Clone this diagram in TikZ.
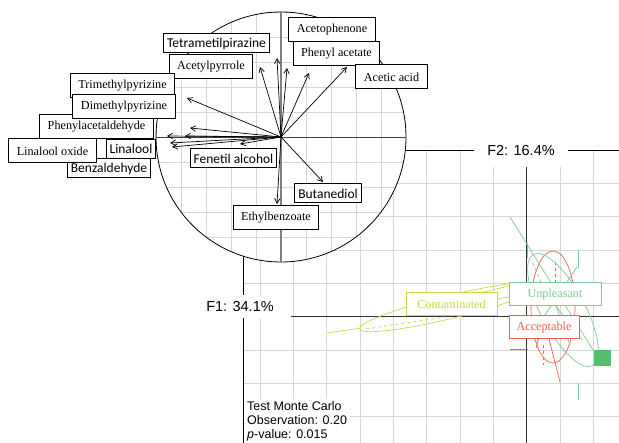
\documentclass[tikz,border=0pt]{standalone}
\usepackage{fontspec}
\setmainfont{Liberation Serif}
\newfontfamily\calibfont{Carlito}
\newfontfamily\arialfont{Liberation Sans}
\usetikzlibrary{arrows.meta}

\definecolor{gridgray}{gray}{0.84}
\definecolor{axisgray}{gray}{0.5}
\definecolor{contcol}{RGB}{200,216,74}
\definecolor{unplcol}{RGB}{124,203,152}
\definecolor{accecol}{RGB}{240,96,76}
\definecolor{sqgreen}{RGB}{86,190,110}

\tikzset{
    serifbox/.style={draw, fill=white, line width=1pt, inner xsep=8, inner ysep=0,
        minimum height=24, font=\fontsize{12.2}{14}\selectfont},
    sansbox/.style={draw, fill=white, line width=1pt, inner xsep=3.5, inner ysep=0,
        minimum height=19, font=\calibfont\fontsize{13.5}{15}\selectfont},
    grouplab/.style={draw=#1, text=#1, fill=white, line width=1pt, inner xsep=4, inner ysep=0,
        minimum height=23, font=\fontsize{12.2}{14}\selectfont},
    axislab/.style={fill=white, inner ysep=0, font=\arialfont\fontsize{14.5}{16}\selectfont},
    gridline/.style={gridgray, line width=0.8pt},
    vec/.style={->, line width=0.7pt},
    grp/.style={#1, line width=0.7pt},
    >={Straight Barb[length=5pt,width=5.5pt]}
}

\begin{document}
\begin{tikzpicture}[x=1pt, y=-1pt]

\useasboundingbox (0,0) rectangle (619,443);

% Grid spacings and circle size
\def\bigstep{33.333}
\def\smallstep{25}
\def\radius{125}
\coordinate (O) at (281,137);

% Grid of the factor map
\foreach \k in {0,...,10} {
    \draw[gridline] (260+\k*\bigstep,150) -- (260+\k*\bigstep,443);
}
\foreach \k in {1,...,8} {
    \draw[gridline] (243,150+\k*\bigstep) -- (619,150+\k*\bigstep);
}

% Frame and axes of the factor map
\draw[line width=0.8pt] (243,443) -- (243,150) -- (619,150);
\draw[line width=0.9pt, black!80] (243,316.67) -- (619,316.67);
\draw[line width=0.9pt, black!80] (526.67,150) -- (526.67,443);

% Correlation circle with its own grid
\fill[white] (O) circle (\radius);
\begin{scope}
    \clip (O) circle (\radius);
    \foreach \k in {-5,...,5} {
        \draw[gridline] (281+\k*\smallstep,10) -- (281+\k*\smallstep,264);
        \draw[gridline] (154,137+\k*\smallstep) -- (408,137+\k*\smallstep);
    }
\end{scope}
\draw[line width=0.8pt] (O) circle (\radius);
\draw[line width=0.7pt, black!75] (156,137) -- (406,137);
\draw[line width=1.4pt, axisgray] (281,12) -- (281,262);

% Variable vectors
\foreach \n/\x/\y in {1/277/58, 2/260/67, 3/287/68, 4/309/73, 5/347/67,
                      6/187/98, 7/190/128, 8/167/136, 9/185/136, 10/170/143,
                      11/172/147, 12/240/144, 13/277/204, 14/323/182} {
    \coordinate (v\n) at (\x,\y);
    \draw[vec] (O) -- (v\n);
}

% Variable labels
\node[sansbox]  (tetra)  at (216.5,43.5) {Tetrametilpirazine};
\node[serifbox] (acpyr)  at (211,67)     {Acetylpyrrole};
\node[serifbox] (trimet) at (122.5,85.5) {Trimethylpyrizine};
\node[serifbox] (phacet) at (96.5,127)   {Phenylacetaldehyde};
\node[serifbox] (dimet)  at (124,106.5)  {Dimethylpyrizine};
\node[sansbox]  (benz)   at (109,168.5)  {Benzaldehyde};
\node[serifbox] (linox)  at (52.5,151)   {Linalool oxide};
\node[sansbox]  (lin)    at (131,149)    {Linalool};
\node[sansbox]  (fenet)  at (233.5,158.5) {Fenetil alcohol};
\node[serifbox] (ethylb) at (276,218)    {Ethylbenzoate};
\node[sansbox]  (butan)  at (328,193.5)  {Butanediol};
\node[serifbox] (acphen) at (332,30)     {Acetophenone};
\node[serifbox] (phenac) at (336.5,54)   {Phenyl acetate};
\node[serifbox] (acetic) at (391.5,77)   {Acetic acid};

% Axis labels
\node[axislab, minimum height=23, inner xsep=17] (f1) at (240,306.5) {F1: 34.1\%};
\node[axislab, minimum height=32, inner xsep=13] (f2) at (521,151)   {F2: 16.4\%};

% Group: Contaminated
\draw[grp=contcol, rotate around={13.7:(450,307)}] (450,307) ellipse [x radius=93, y radius=11.5];
\draw[grp=contcol] (327,333) -- (361,328);
\draw[grp=contcol, dashed] (366,329) -- (445,317);
\draw[grp=contcol] (450,300) -- (509,286);
\draw[grp=contcol] (450,306) -- (509,297);

% Group: Acceptable
\draw[grp=accecol] (553,307) ellipse [x radius=22, y radius=56];
\draw[grp=accecol] (510,349) -- (528,349);
\draw[grp=accecol] (548,335) -- (560,382);
\draw[grp=accecol] (545,315) -- (536,348);
\draw[grp=accecol, dashed] (555,262) -- (555,283);
\draw[grp=accecol, dashed] (543,345) -- (543,365);

% Group: Unpleasant
\draw[grp=unplcol, rotate around={-62:(563,310)}] (563,310) ellipse [x radius=63, y radius=22];
\draw[grp=unplcol] (510,217) -- (593,350);
\draw[grp=unplcol] (577,267) -- (545,315);
\draw[grp=unplcol, dashed] (533,263) -- (547,297);
\draw[grp=unplcol] (578,250) -- (578,268);
\draw[grp=unplcol] (578,383) -- (578,400);
\draw[grp=unplcol] (527,243) -- (527,258);
\draw[grp=unplcol] (556,306) -- (582,340);
\draw[grp=unplcol] (556,306) -- (570,345);
\fill[sqgreen] (594,350) rectangle (611,366);

% Group labels
\node[grouplab=contcol, minimum width=91] (cont) at (451.5,304.5) {Contaminated};
\node[grouplab=unplcol, minimum width=92] (unpl) at (555,294.5)   {Unpleasant};
\node[grouplab=accecol, minimum width=70] (acce) at (544,327.5)   {Acceptable};

% Test result
\node[fill=white, anchor=north west, align=left, inner xsep=3, inner ysep=2,
      font=\arialfont\fontsize{12.5}{14}\selectfont] (mc) at (244,399)
      {Test Monte Carlo\\Observation: 0.20\\\textit{p}-value: 0.015};

\end{tikzpicture}
\end{document}
